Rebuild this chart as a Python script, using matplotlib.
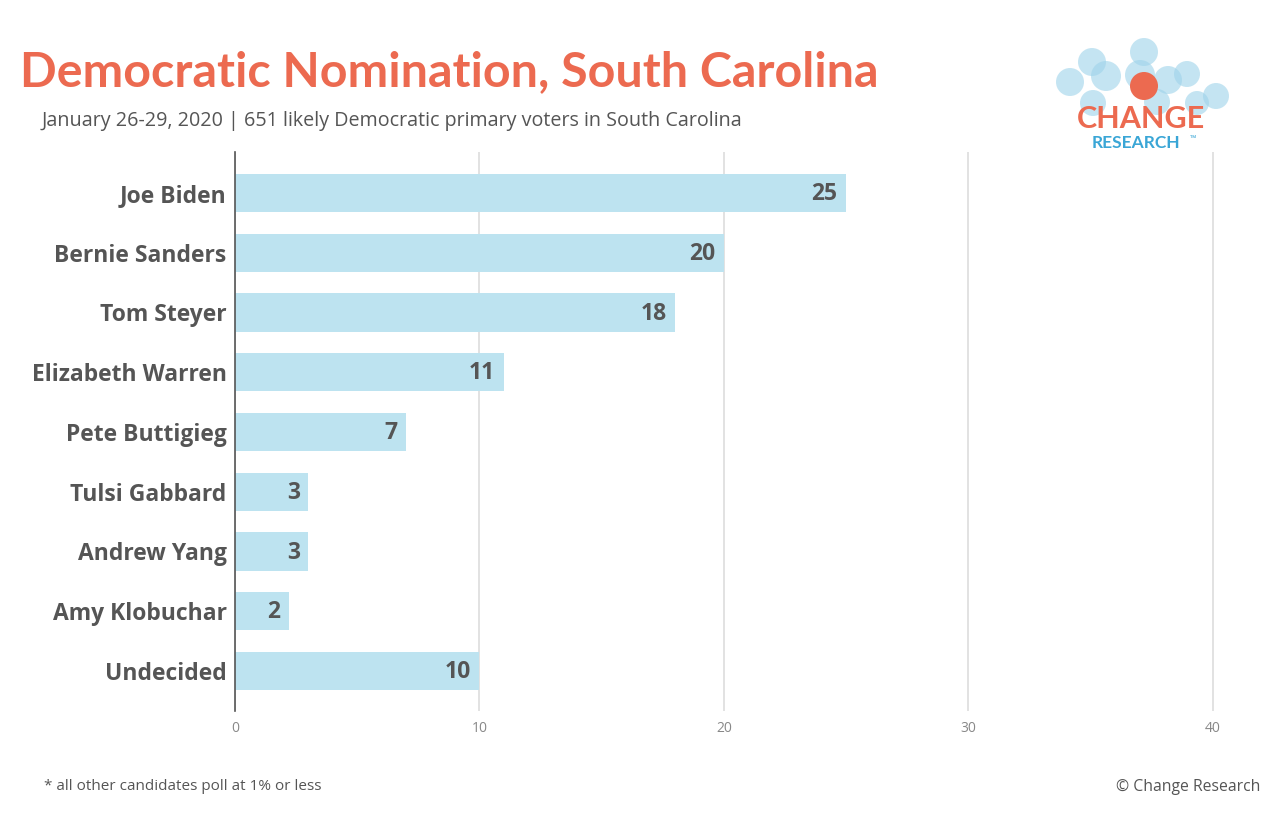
import numpy as np
import matplotlib.pyplot as plt
from matplotlib.patches import Circle

candidates = ['Joe Biden', 'Bernie Sanders', 'Tom Steyer', 'Elizabeth Warren',
              'Pete Buttigieg', 'Tulsi Gabbard', 'Andrew Yang', 'Amy Klobuchar',
              'Undecided']
support = [25, 20, 18, 11, 7, 3, 3, 2.2, 10]
value_labels = ['25', '20', '18', '11', '7', '3', '3', '2', '10']
xticks = [0, 10, 20, 30, 40]

coral = '#EC6A50'
bar_col = '#BDE3F0'
dark = '#555555'

plt.rcParams['font.family'] = ['Open Sans', 'DejaVu Sans']

fig = plt.figure(figsize=(12.82, 8.26), dpi=100)

# background layer in pixel coords for the logo
bg = fig.add_axes([0, 0, 1, 1], zorder=0)
bg.set_xlim(0, 1282)
bg.set_ylim(826, 0)
bg.axis('off')
circles = [(1070, 82, 14), (1092, 62, 14), (1106, 76, 15), (1144, 52, 14),
           (1140, 75, 15), (1168, 80, 14), (1187, 74, 13), (1093, 103, 13),
           (1157, 102, 13), (1197, 103, 12), (1216, 96, 13)]
for cx, cy, r in circles:
    bg.add_patch(Circle((cx, cy), r, color='#9ED3EA', alpha=0.6, lw=0))
bg.add_patch(Circle((1144, 86), 14, color=coral, lw=0))
bg.text(1141, 119, 'CHANGE', color=coral, fontsize=22, fontweight='bold',
        family='Lato', ha='center', va='center')
bg.text(1136, 143, 'RESEARCH', color='#3AA6D6', fontsize=12.5, fontweight='bold',
        family='Lato', ha='center', va='center')
bg.text(1190, 139, '™', color='#3AA6D6', fontsize=6, ha='left', va='center')

ax = fig.add_axes([235 / 1282, 1 - 711 / 826, 990 / 1282, 559 / 826], zorder=1)
ax.patch.set_alpha(0)
y = np.arange(len(candidates))
ax.barh(y, support, height=0.64, color=bar_col, zorder=2)
for yi, v, lab in zip(y, support, value_labels):
    ax.text(v - 0.35, yi + 0.02, lab, ha='right', va='center', fontsize=16.5,
            fontweight='bold', color=dark, zorder=3)

ax.set_xlim(0, 40.5)
ax.set_ylim(8.67, -0.686)
ax.set_yticks(y)
ax.set_yticklabels(candidates, fontsize=16.5, fontweight='bold', color=dark)
ax.set_xticks(xticks)
ax.set_xticklabels([str(t) for t in xticks], fontsize=10, color='#888888')
ax.tick_params(axis='y', length=0, pad=6)
ax.tick_params(axis='x', length=0, pad=7)
ax.grid(axis='x', color='#DDDDDD', lw=1.2, zorder=0)
ax.set_axisbelow(True)
for s in ['top', 'right', 'bottom']:
    ax.spines[s].set_visible(False)
ax.spines['left'].set_color('#555555')
ax.spines['left'].set_linewidth(1.2)

fig.text(20 / 1282, 1 - 72 / 826, 'Democratic Nomination, South Carolina',
         color=coral, fontsize=34.8, fontweight='bold', family='Lato',
         va='center', ha='left')
fig.text(42 / 1282, 1 - 121 / 826,
         'January 26-29, 2020 | 651 likely Democratic primary voters in South Carolina',
         color='#555555', fontsize=14.2, va='center', ha='left')
fig.text(44 / 1282, 1 - 787 / 826, '* all other candidates poll at 1% or less',
         color='#555555', fontsize=11, va='center', ha='left')
fig.text(1260 / 1282, 1 - 787 / 826, '© Change Research',
         color='#555555', fontsize=11.3, va='center', ha='right')

fig.savefig('out.png', dpi=100, facecolor='white')
